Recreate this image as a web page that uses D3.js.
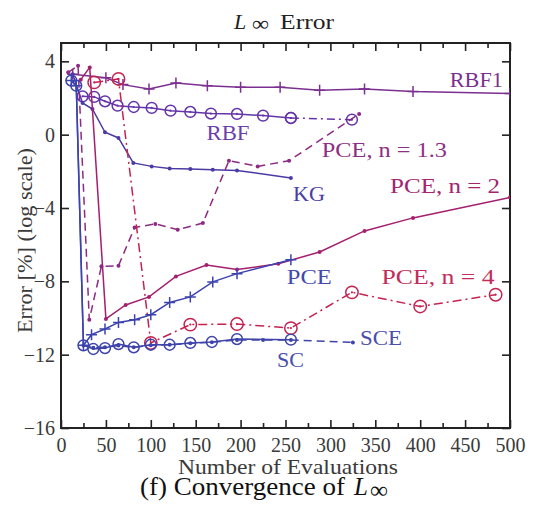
<!DOCTYPE html>
<html>
<head>
<meta charset="utf-8">
<script src="https://cdn.jsdelivr.net/npm/d3@7"></script>
<style>
  html, body { margin: 0; padding: 0; background: #fff; }
  svg { display: block; }
  text { font-family: "Liberation Serif", "DejaVu Serif", serif; }
</style>
</head>
<body>
<svg id="chart" width="535" height="508"></svg>
<script>
// Number of evaluations (x) and L-infinity error (log scale, y) for each method
const rbf1X = [13, 50, 69, 98, 128, 163, 200, 244, 288, 338, 392, 500];
const rbf1Y = [3.3, 3.1, 2.73, 2.49, 2.82, 2.67, 2.58, 2.58, 2.42, 2.49, 2.36, 2.25];

const rbfX = [24, 37, 49, 63, 81, 101, 122, 144, 167, 196, 225, 256, 324];
const rbfY = [2.09, 2.06, 1.82, 1.58, 1.51, 1.46, 1.31, 1.24, 1.15, 1.13, 1.04, 0.91, 0.82];

const kgX = [13, 24, 35, 49, 64, 80.5, 101, 121, 144, 169, 196, 256];
const kgY = [3.3, 1.73, 1.4, 0.13, -0.18, -1.54, -1.73, -1.85, -1.87, -1.91, -1.95, -2.36];

const pce13X = [8, 19, 31.5, 45, 64, 82, 105, 130, 158, 187, 219, 254, 332];
const pce13Y = [3.4, 3.76, -10.09, -7.18, -7.15, -5.06, -4.87, -5.18, -4.82, -1.42, -1.73, -1.42, 1.13];

const pce2X = [22, 32, 50, 72, 98, 128, 162, 196, 242, 288, 338, 392, 500];
const pce2Y = [3.0, 3.67, -10.05, -9.29, -8.85, -7.73, -7.11, -7.36, -7.04, -6.4, -5.25, -4.54, -3.42];

const pce4X = [37, 64, 100, 144, 196, 256, 324, 400, 484];
const pce4Y = [2.85, 3.04, -11.36, -10.36, -10.33, -10.55, -8.6, -9.37, -8.73];

const pceX = [11.5, 17, 25, 34, 49, 64, 82, 100, 121, 144, 169, 196, 256];
const pceY = [2.95, 2.67, -11.49, -10.91, -10.6, -10.24, -10.09, -9.82, -9.15, -8.85, -8.03, -7.58, -6.82];

const scX = [11.5, 17, 25, 36, 49, 64, 81, 100, 121, 144, 168, 196, 256];
const scY = [2.95, 2.67, -11.49, -11.69, -11.64, -11.42, -11.6, -11.46, -11.46, -11.36, -11.31, -11.15, -11.18];

const sceX = [25, 36, 49, 64, 81, 100, 121, 144, 168, 196, 225, 256, 325];
const sceY = [-11.5, -11.62, -11.6, -11.5, -11.6, -11.48, -11.46, -11.38, -11.32, -11.2, -11.2, -11.2, -11.33];

const xTicks = [0, 50, 100, 150, 200, 250, 300, 350, 400, 450, 500];
const xMinorTicks = [25, 75, 125, 175, 225, 275, 325, 375, 425, 475];
const yTicks = [4, 0, -4, -8, -12, -16];

const zip = (xs, ys) => xs.map((x, i) => ({ x, y: ys[i] }));

const series = [
  { name: "RBF1", data: zip(rbf1X, rbf1Y), color: "#7b2f90", dash: null, marker: "plus" },
  { name: "RBF", data: zip(rbfX, rbfY).slice(0, 12), color: "#6434a8", dash: null, marker: "circle" },
  { name: "RBF tail", data: zip(rbfX, rbfY).slice(11), color: "#6434a8", dash: "8,4,2,4", marker: "circle" },
  { name: "KG", data: zip(kgX, kgY), color: "#4a3aa4", dash: null, marker: "dot" },
  { name: "PCE, n = 1.3", data: zip(pce13X, pce13Y), color: "#8c2a84", dash: "8,5", marker: "dot" },
  { name: "PCE, n = 2", data: zip(pce2X, pce2Y), color: "#a41f6e", dash: null, marker: "dot" },
  { name: "PCE, n = 4", data: zip(pce4X, pce4Y), color: "#c42350", dash: "9,4,2,4", marker: "circle", r: 6.2 },
  { name: "SCE", data: zip(sceX, sceY), color: "#3e44aa", dash: "8,5", marker: "dot" },
  { name: "SC", data: zip(scX, scY), color: "#3e44aa", dash: null, marker: "circle" },
  { name: "PCE", data: zip(pceX, pceY), color: "#3c42ae", dash: null, marker: "plus" }
];

const svg = d3.select("#chart");
const mLeft = 61, mRight = 510, mTop = 43, mBottom = 428;

const x = d3.scaleLinear().domain([0, 500]).range([mLeft, mRight]);
const y = d3.scaleLinear().domain([-16, 5]).range([mBottom, mTop]);

// clip region for the data
svg.append("defs").append("clipPath").attr("id", "plotArea")
  .append("rect").attr("x", mLeft).attr("y", mTop)
  .attr("width", mRight - mLeft).attr("height", mBottom - mTop);

const axisColor = "#222";
const tickFont = "20px";

function styleAxis(g) {
  g.select(".domain").remove();
  g.selectAll(".tick line").attr("stroke", axisColor).attr("stroke-width", 1.6);
  g.selectAll(".tick text")
    .attr("fill", "#3a3a3a")
    .style("font-size", tickFont)
    .style("font-family", "'Liberation Serif', serif");
}

// bottom axis: labelled majors, unlabelled minors (ticks point inward)
svg.append("g").attr("transform", `translate(0,${mBottom})`)
  .call(d3.axisBottom(x).tickValues(xTicks).tickSizeInner(-8).tickSizeOuter(0).tickPadding(10))
  .call(styleAxis);
svg.append("g").attr("transform", `translate(0,${mBottom})`)
  .call(d3.axisBottom(x).tickValues(xMinorTicks).tickFormat("").tickSizeInner(-5).tickSizeOuter(0))
  .call(styleAxis);
// top axis
svg.append("g").attr("transform", `translate(0,${mTop})`)
  .call(d3.axisTop(x).tickValues(xTicks).tickFormat("").tickSizeInner(-8).tickSizeOuter(0))
  .call(styleAxis);
svg.append("g").attr("transform", `translate(0,${mTop})`)
  .call(d3.axisTop(x).tickValues(xMinorTicks).tickFormat("").tickSizeInner(-5).tickSizeOuter(0))
  .call(styleAxis);
// left axis
svg.append("g").attr("transform", `translate(${mLeft},0)`)
  .call(d3.axisLeft(y).tickValues(yTicks).tickFormat(d3.format("d")).tickSizeInner(-8).tickSizeOuter(0).tickPadding(6))
  .call(styleAxis);
// right axis
svg.append("g").attr("transform", `translate(${mRight},0)`)
  .call(d3.axisRight(y).tickValues(yTicks).tickFormat("").tickSizeInner(-8).tickSizeOuter(0))
  .call(styleAxis);

// frame
svg.append("rect")
  .attr("x", mLeft).attr("y", mTop)
  .attr("width", mRight - mLeft).attr("height", mBottom - mTop)
  .attr("fill", "none").attr("stroke", axisColor).attr("stroke-width", 2);

// series lines and markers
const plot = svg.append("g").attr("clip-path", "url(#plotArea)");
const line = d3.line().x(d => x(d.x)).y(d => y(d.y));

series.forEach(s => {
  plot.append("path")
    .datum(s.data)
    .attr("d", line)
    .attr("fill", "none")
    .attr("stroke", s.color)
    .attr("stroke-width", 1.5)
    .attr("stroke-dasharray", s.dash);

  const pts = plot.append("g").selectAll("g").data(s.data).join("g")
    .attr("transform", d => `translate(${x(d.x)},${y(d.y)})`);

  if (s.marker === "plus") {
    pts.append("path").attr("d", "M-5.5,0H5.5M0,-5.5V5.5")
      .attr("stroke", s.color).attr("stroke-width", 1.5);
  } else if (s.marker === "circle") {
    pts.append("circle").attr("r", s.r || 5.4)
      .attr("fill", "none").attr("stroke", s.color).attr("stroke-width", 1.5);
    pts.append("circle").attr("r", 1.1).attr("fill", s.color);
  } else if (s.marker === "dot") {
    pts.append("circle").attr("r", 2).attr("fill", s.color);
  }
});

// series annotations (w = rendered text width)
const labels = [
  { text: "RBF1", x: 433, y: 2.6, w: 53, color: "#7b2f90" },
  { text: "RBF", x: 162, y: -0.29, w: 43, color: "#6a3fac" },
  { text: "PCE, n = 1.3", x: 290.5, y: -1.22, w: 125, color: "#8c2f86" },
  { text: "KG", x: 258.5, y: -3.6, w: 32, color: "#4a3ea6" },
  { text: "PCE, n = 2", x: 366.5, y: -3.18, w: 110, color: "#a3246f" },
  { text: "PCE", x: 251.5, y: -8.15, w: 45, color: "#4449ad" },
  { text: "PCE, n = 4", x: 357, y: -8.15, w: 113, color: "#c22c58" },
  { text: "SCE", x: 333, y: -11.47, w: 42, color: "#4a4eaa" },
  { text: "SC", x: 240.5, y: -12.66, w: 27, color: "#4a50b0" }
];
svg.append("g").selectAll("text").data(labels).join("text")
  .attr("x", d => x(d.x))
  .attr("y", d => y(d.y))
  .attr("fill", d => d.color)
  .attr("textLength", d => d.w)
  .attr("lengthAdjust", "spacingAndGlyphs")
  .style("font-size", "21px")
  .text(d => d.text);

// title: L∞ Error
svg.append("text").attr("x", 234).attr("y", 28.5).attr("fill", "#222")
  .style("font-size", "22px").style("font-style", "italic").text("L");
svg.append("text").attr("x", 252).attr("y", 31).attr("fill", "#222")
  .attr("textLength", 17).attr("lengthAdjust", "spacingAndGlyphs")
  .style("font-size", "22px").text("∞");
svg.append("text").attr("x", 280).attr("y", 28.5).attr("fill", "#222")
  .attr("textLength", 54).attr("lengthAdjust", "spacingAndGlyphs")
  .style("font-size", "22px").text("Error");

// axis titles
svg.append("text")
  .attr("x", 178).attr("y", 474)
  .attr("fill", "#3a3a3a")
  .attr("textLength", 220).attr("lengthAdjust", "spacingAndGlyphs")
  .style("font-size", "21px")
  .text("Number of Evaluations");

svg.append("text")
  .attr("transform", "translate(32,333) rotate(-90)")
  .attr("fill", "#3a3a3a")
  .attr("textLength", 185).attr("lengthAdjust", "spacingAndGlyphs")
  .style("font-size", "21px")
  .text("Error [%] (log scale)");

// caption: (f) Convergence of L∞
svg.append("text").attr("x", 140).attr("y", 495).attr("fill", "#111")
  .attr("textLength", 205).attr("lengthAdjust", "spacingAndGlyphs")
  .style("font-size", "25px").text("(f)  Convergence of");
svg.append("text").attr("x", 354).attr("y", 495).attr("fill", "#111")
  .style("font-size", "25px").style("font-style", "italic").text("L");
svg.append("text").attr("x", 370).attr("y", 498).attr("fill", "#111")
  .attr("textLength", 18).attr("lengthAdjust", "spacingAndGlyphs")
  .style("font-size", "24px").text("∞");
</script>
</body>
</html>
